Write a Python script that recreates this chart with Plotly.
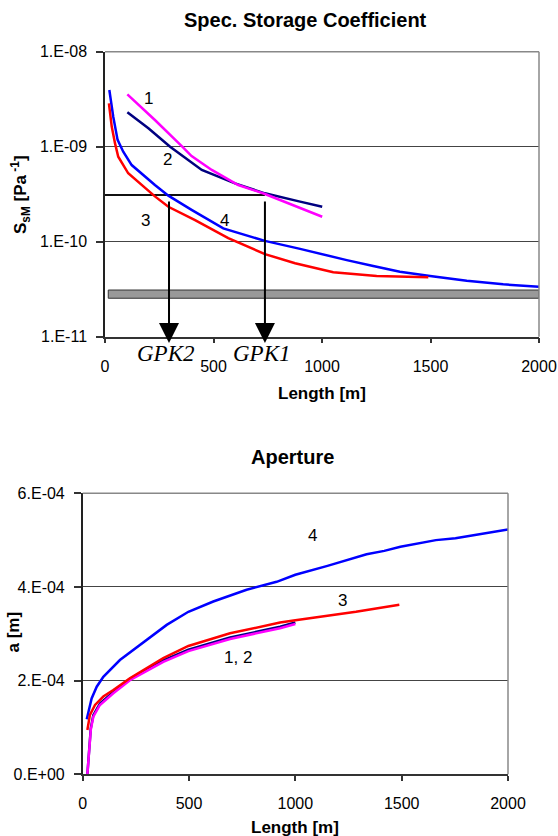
import math
import plotly.graph_objects as go

# ---------------- data: Spec. Storage Coefficient ----------------
len1 = [103, 230, 356, 399, 492, 614, 737, 900, 1001]
ssm1 = [3.56e-9, 1.91e-9, 1.0e-9, 7.98e-10, 5.69e-10, 3.95e-10, 3.18e-10, 2.27e-10, 1.83e-10]

len2 = [103, 200, 300, 446, 599, 737, 899, 1001]
ssm2 = [2.30e-9, 1.56e-9, 1.0e-9, 5.69e-10, 4.11e-10, 3.23e-10, 2.64e-10, 2.33e-10]

len3 = [18, 31, 46, 61, 107, 169, 230, 292, 415, 568, 737, 876, 968, 1052, 1252, 1490]
ssm3 = [2.86e-9, 1.63e-9, 1.09e-9, 7.85e-10, 5.25e-10, 3.95e-10, 3.0e-10, 2.33e-10,
        1.69e-10, 1.09e-10, 7.4e-11, 5.93e-11, 5.25e-11, 4.76e-11, 4.35e-11, 4.22e-11]

len4 = [20, 38, 58, 84, 123, 184, 230, 292, 399, 545, 737, 899, 1052, 1114, 1236,
        1359, 1498, 1667, 1835, 2000]
ssm4 = [3.95e-9, 2.07e-9, 1.18e-9, 8.86e-10, 6.41e-10, 4.83e-10, 3.95e-10, 3.05e-10,
        2.16e-10, 1.38e-10, 1.02e-10, 8.4e-11, 6.85e-11, 6.4e-11, 5.54e-11, 4.83e-11,
        4.35e-11, 3.88e-11, 3.56e-11, 3.36e-11]

band_x = [15, 2000]
band_y = [2.54e-11, 3.1e-11]

level_ssm = 3.1e-10
gpk_names = ["GPK2", "GPK1"]
gpk_len = [295, 737]
arrow_top = 2.75e-10
arrow_tip = 8.6e-12

ssm_tickvals = [1e-11, 1e-10, 1e-9, 1e-8]
ssm_ticktext = ["1.E-11", "1.E-10", "1.E-09", "1.E-08"]

ssm_labels = ["1", "2", "3", "4"]
ssm_label_x = [200, 289, 187, 550]
ssm_label_y = [3.24e-9, 7.36e-10, 1.66e-10, 1.66e-10]

# ---------------- data: Aperture ----------------
ap_len1 = [22, 31, 38, 50, 81, 144, 222, 379, 497, 693, 928, 1000]
ap1 = [0.0, 0.52e-4, 0.95e-4, 1.23e-4, 1.48e-4, 1.73e-4, 2.01e-4, 2.40e-4, 2.63e-4,
       2.89e-4, 3.12e-4, 3.21e-4]

ap_len2 = [22, 31, 38, 50, 81, 144, 222, 379, 497, 693, 928, 1000]
ap2 = [0.0, 0.55e-4, 0.98e-4, 1.26e-4, 1.51e-4, 1.76e-4, 2.04e-4, 2.43e-4, 2.66e-4,
       2.92e-4, 3.15e-4, 3.24e-4]

ap_len3 = [22, 34, 58, 97, 144, 222, 379, 497, 693, 928, 1000, 1285, 1489]
ap3 = [0.946e-4, 1.27e-4, 1.48e-4, 1.66e-4, 1.80e-4, 2.05e-4, 2.48e-4, 2.74e-4,
       3.01e-4, 3.24e-4, 3.29e-4, 3.47e-4, 3.62e-4]

ap_len4 = [19, 42, 66, 97, 175, 301, 395, 497, 614, 771, 912, 1000, 1151, 1335, 1418,
           1494, 1661, 1753, 2000]
ap4 = [1.174e-4, 1.62e-4, 1.87e-4, 2.08e-4, 2.44e-4, 2.87e-4, 3.19e-4, 3.47e-4,
       3.69e-4, 3.94e-4, 4.11e-4, 4.26e-4, 4.45e-4, 4.70e-4, 4.77e-4, 4.86e-4,
       5.0e-4, 5.04e-4, 5.23e-4]

ap_tickvals = [0, 2e-4, 4e-4, 6e-4]
ap_ticktext = ["0.E+00", "2.E-04", "4.E-04", "6.E-04"]

ap_labels = ["4", "3", "1, 2"]
ap_label_x = [1081, 1221, 729]
ap_label_y = [5.09e-4, 3.72e-4, 2.49e-4]

len_ticks = [0, 500, 1000, 1500, 2000]

# ---------------- styling ----------------
SANS = "Liberation Sans, Arial, sans-serif"
SERIF = "Liberation Serif, Times New Roman, serif"
MAG = "#FF00FF"
NAVY = "#000080"
BLUE = "#0000FF"
RED = "#FF0000"
LW = 2.5

fig = go.Figure()

# band (top chart)
fig.add_trace(go.Scatter(
    x=[band_x[0], band_x[1], band_x[1], band_x[0], band_x[0]],
    y=[band_y[0], band_y[0], band_y[1], band_y[1], band_y[0]],
    mode="lines", fill="toself", fillcolor="#999999",
    line=dict(color="#333333", width=1), xaxis="x", yaxis="y", hoverinfo="skip"))

# horizontal reference line
fig.add_trace(go.Scatter(x=[0, gpk_len[1]], y=[level_ssm, level_ssm], mode="lines",
                         line=dict(color="#111111", width=2), xaxis="x", yaxis="y"))

for xs, ys, c in [(len4, ssm4, BLUE), (len3, ssm3, RED), (len2, ssm2, NAVY), (len1, ssm1, MAG)]:
    fig.add_trace(go.Scatter(x=xs, y=ys, mode="lines", line=dict(color=c, width=LW),
                             xaxis="x", yaxis="y"))

for xs, ys, c in [(ap_len4, ap4, BLUE), (ap_len2, ap2, NAVY), (ap_len1, ap1, MAG), (ap_len3, ap3, RED)]:
    fig.add_trace(go.Scatter(x=xs, y=ys, mode="lines", line=dict(color=c, width=LW),
                             xaxis="x2", yaxis="y2"))

annotations = []


def txt(text, x, y, size, xref="paper", yref="paper", **kw):
    d = dict(text=text, x=x, y=y, xref=xref, yref=yref, showarrow=False,
             xanchor="center", yanchor="middle",
             font=dict(family=kw.pop("family", SANS), size=size, color="black"))
    d.update(kw)
    annotations.append(d)


# chart titles
txt("<b>Spec. Storage Coefficient</b>", 305 / 558, 1 - 20 / 836, 20)
txt("<b>Aperture</b>", 292.5 / 558, 1 - 456.7 / 836, 20)
# x axis titles
txt("<b>Length [m]</b>", 322 / 558, 1 - 393 / 836, 17)
txt("<b>Length [m]</b>", 295 / 558, 1 - 827 / 836, 17)
# y axis titles
txt("<b>S<sub>sM</sub> [Pa<sup> -1</sup>]</b>", 21 / 558, 1 - 195 / 836, 17, textangle=-90)
txt("<b>a [m]</b>", 12.5 / 558, 1 - 632 / 836, 17, textangle=-90)

# curve labels
for t, lx, ly in zip(ssm_labels, ssm_label_x, ssm_label_y):
    txt(t, lx, math.log10(ly), 17, xref="x", yref="y")
for t, lx, ly in zip(ap_labels, ap_label_x, ap_label_y):
    txt(t, lx, ly, 17, xref="x2", yref="y2")

# GPK arrows and labels
for name, gx in zip(gpk_names, gpk_len):
    annotations.append(dict(text="", x=gx, y=math.log10(arrow_tip), xref="x", yref="y",
                            ax=gx, ay=math.log10(arrow_top), axref="x", ayref="y",
                            showarrow=True, arrowhead=2, arrowsize=2, arrowwidth=2,
                            arrowcolor="black", standoff=0))
    txt("<i>%s</i>" % name, gx - 12, -0.058, 23, xref="x", yref="y domain", family=SERIF)

shapes = []
for xa, ya in [("x", "y"), ("x2", "y2")]:
    shapes.append(dict(type="line", xref=xa + " domain", yref=ya + " domain", x0=0, x1=1, y0=1, y1=1,
                       line=dict(color="#888888", width=1.5), layer="above"))
    shapes.append(dict(type="line", xref=xa + " domain", yref=ya + " domain", x0=1, x1=1, y0=0, y1=1,
                       line=dict(color="#888888", width=1.5), layer="above"))

tickfont = dict(family=SANS, size=16, color="black")
xcommon = dict(range=[0, 2000], tickvals=len_ticks, ticks="outside", ticklen=5, tickwidth=1.5,
               tickcolor="#333333", showline=True, linecolor="#333333", linewidth=1.5,
               showgrid=False, zeroline=False, tickfont=tickfont, ticklabelstandoff=9,
               fixedrange=True, automargin=False)
ycommon = dict(ticks="outside", ticklen=7, tickwidth=1.5, tickcolor="#333333", showline=True,
               linecolor="#222222", linewidth=1.5, showgrid=True, gridcolor="#444444", gridwidth=1.2,
               zeroline=False, tickfont=tickfont, ticklabelstandoff=6, fixedrange=True,
               automargin=False)

fig.update_layout(
    width=558, height=836, margin=dict(l=0, r=0, t=0, b=0, autoexpand=False),
    paper_bgcolor="white", plot_bgcolor="white", showlegend=False,
    xaxis=dict(domain=[105 / 558, 539 / 558], anchor="y", **xcommon),
    yaxis=dict(domain=[1 - 336.7 / 836, 1 - 51.7 / 836], anchor="x", type="log", range=[-11, -8],
               tickvals=ssm_tickvals, ticktext=ssm_ticktext, **ycommon),
    xaxis2=dict(domain=[82.7 / 558, 508 / 558], anchor="y2", **xcommon),
    yaxis2=dict(domain=[1 - 774.3 / 836, 1 - 493.3 / 836], anchor="x2", range=[0, 6e-4],
                tickvals=ap_tickvals, ticktext=ap_ticktext, **ycommon),
    annotations=annotations, shapes=shapes,
)

fig.write_html("out.html")
